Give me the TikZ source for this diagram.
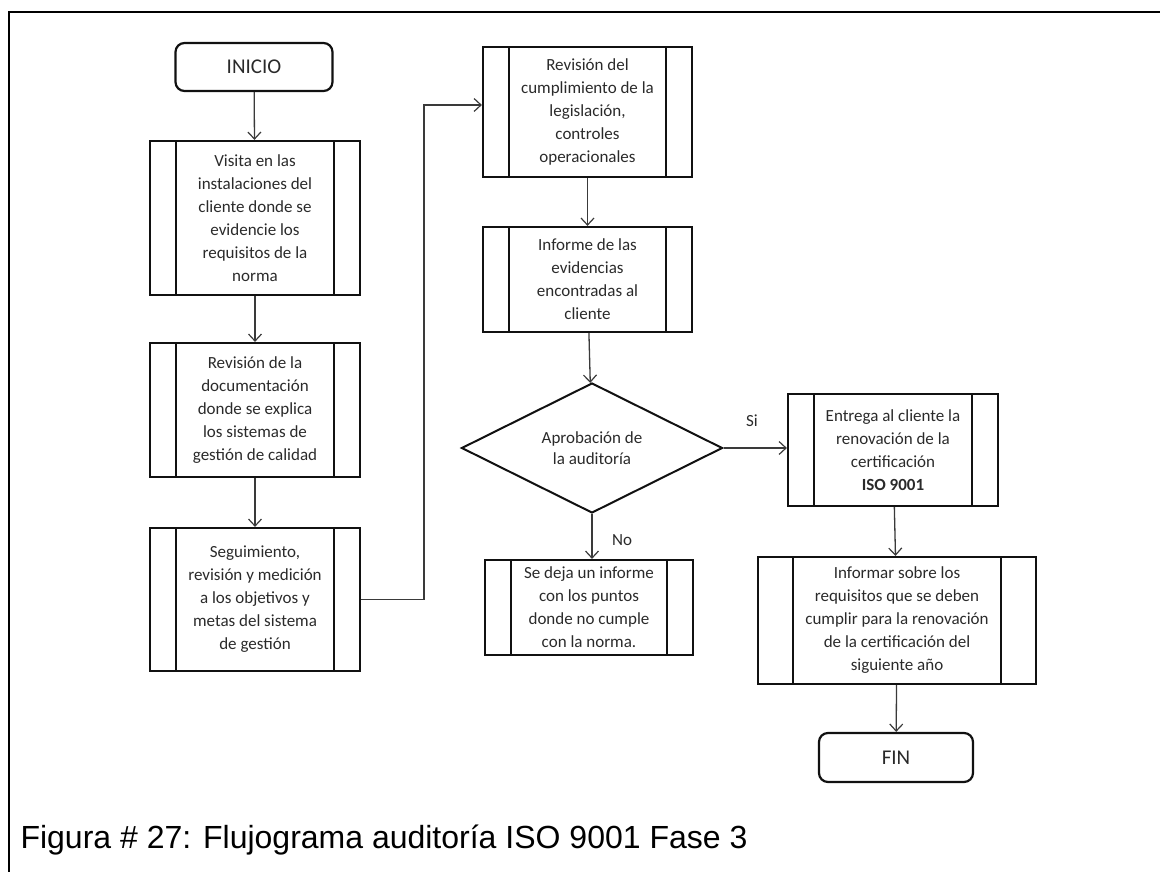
\documentclass[tikz,border=0pt]{standalone}
\usepackage{fontspec}
\setmainfont{Carlito}
\newfontfamily\captionfont{Liberation Sans}
\usetikzlibrary{arrows.meta,shapes.geometric}
\definecolor{ink}{HTML}{111111}
\definecolor{wire}{HTML}{3A3A3A}
\definecolor{textgray}{HTML}{2A2A2A}

\begin{document}
\begin{tikzpicture}[
  x=1pt, y=-1pt,
  line join=miter,
  procbox/.style={draw=ink, line width=2.2pt, rectangle, inner sep=0pt,
    align=center, text=textgray, font=\fontsize{17}{23}\selectfont,
    path picture={
      \draw[ink, line width=1.8pt]
        ([xshift=#1]path picture bounding box.north west) --
        ([xshift=#1]path picture bounding box.south west)
        ([xshift=-#1]path picture bounding box.north east) --
        ([xshift=-#1]path picture bounding box.south east);}},
  procbox/.default=26pt,
  endbox/.style={draw=ink, line width=2.2pt, rounded corners=9pt,
    minimum width=157pt, minimum height=48pt, text=textgray,
    font=\fontsize{21}{24}\selectfont},
  decision/.style={draw=ink, diamond, aspect=2, line width=2pt, inner sep=0pt,
    minimum width=261pt, minimum height=130pt, align=center, text=textgray,
    font=\fontsize{17}{21}\selectfont},
  flow/.style={draw=wire, line width=1.3pt,
    -{Straight Barb[length=7pt,width=13pt,line width=1.2pt]}},
  tag/.style={text=textgray, font=\fontsize{17}{20}\selectfont}
]
  \useasboundingbox (0,0) rectangle (1160,872);

  % frame
  \draw[line width=2.5pt] (9,872) -- (9,12) -- (1160,12);

  % left column
  \node[endbox] (inicio) at (254,67) {INICIO};
  \node[procbox, minimum width=210pt, minimum height=154pt] (visita) at (255,218)
    {Visita en las\\instalaciones del\\cliente donde se\\evidencie los\\requisitos de la\\norma};
  \node[procbox, minimum width=210pt, minimum height=134pt] (revdoc) at (255,410)
    {Revisión de la\\documentación\\donde se explica\\los sistemas de\\gestión de calidad};
  \node[procbox, minimum width=210pt, minimum height=143pt] (seguim) at (255,599.5)
    {Seguimiento,\\revisión y medición\\a los objetivos y\\metas del sistema\\de gestión};

  % middle column
  \node[procbox, minimum width=209pt, minimum height=130pt] (revcum) at (587.5,112)
    {Revisión del\\cumplimiento de la\\legislación,\\controles\\operacionales};
  \node[procbox, minimum width=209pt, minimum height=105pt] (informe) at (587.5,279.5)
    {Informe de las\\evidencias\\encontradas al\\cliente};
  \node[decision] (aprob) at (592,448) {Aprobación de\\la auditoría};
  \node[procbox, minimum width=208pt, minimum height=95pt] (sedeja) at (589,607.5)
    {Se deja un informe\\con los puntos\\donde no cumple\\con la norma.};

  % right column
  \node[procbox, minimum width=210pt, minimum height=112pt] (entrega) at (893,450)
    {Entrega al cliente la\\renovación de la\\certificación\hspace*{1.5em}\\\textbf{ISO 9001}};
  \node[procbox=35pt, minimum width=278pt, minimum height=127pt] (informar) at (897,620.5)
    {Informar sobre los\\requisitos que se deben\\cumplir para la renovación\\de la certificación del\\siguiente año};
  \node[endbox, minimum width=154pt, minimum height=49pt] (fin) at (896,757.5) {FIN};

  \node[tag] (si) at (752,421) {Si};
  \node[tag] (no) at (622,540) {No};

  % connectors
  \draw[flow] (inicio) -- (visita);
  \draw[flow] (visita) -- (revdoc);
  \draw[flow] (revdoc) -- (seguim);
  \draw[flow] (seguim.east) -- ++(63,0) |- ([yshift=7pt]revcum.west);
  \draw[flow] (revcum) -- (informe);
  \draw[flow] (informe) -- (aprob);
  \draw[flow] (aprob.east) -- (aprob.east -| entrega.west);
  \draw[flow] (aprob) -- (aprob.south |- sedeja.north);
  \draw[flow] (entrega) -- (informar);
  \draw[flow] (informar) -- (fin);

  \node[anchor=base west, font=\captionfont\fontsize{32}{36}\selectfont] (caption)
    at (17,848) {Figura \# 27: Flujograma auditoría ISO 9001 Fase 3};
\end{tikzpicture}
\end{document}
